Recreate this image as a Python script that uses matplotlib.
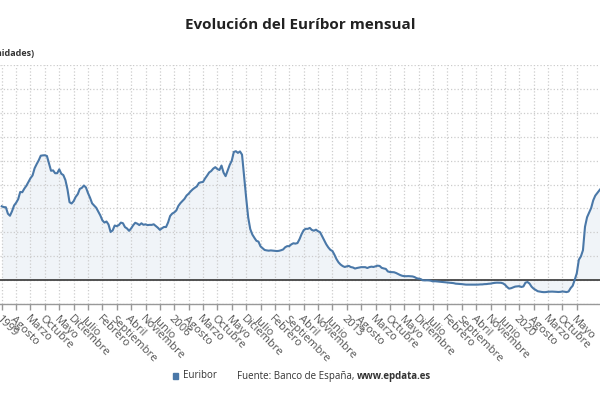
import numpy as np
import matplotlib
matplotlib.use('Agg')
import matplotlib.pyplot as plt
from matplotlib.patches import Rectangle

plt.rcParams['font.family'] = ['Open Sans', 'DejaVu Sans']

# Euribor mensual (%), enero 1999 - mayo 2023
euribor = [
    # 1999
    3.087, 3.055, 3.047, 2.778, 2.693, 2.881, 3.121, 3.235, 3.386, 3.688, 3.677, 3.828,
    # 2000
    3.949, 4.111, 4.265, 4.379, 4.679, 4.853, 5.011, 5.205, 5.218, 5.224, 5.193, 4.881,
    # 2001
    4.574, 4.591, 4.471, 4.472, 4.635, 4.450, 4.393, 4.184, 3.799, 3.260, 3.204, 3.303,
    # 2002
    3.481, 3.594, 3.816, 3.859, 3.958, 3.875, 3.641, 3.445, 3.211, 3.119, 3.027, 2.870,
    # 2003
    2.706, 2.502, 2.407, 2.452, 2.325, 2.014, 2.078, 2.283, 2.256, 2.301, 2.405, 2.381,
    # 2004
    2.218, 2.160, 2.061, 2.162, 2.296, 2.399, 2.360, 2.302, 2.377, 2.315, 2.333, 2.301,
    # 2005
    2.312, 2.310, 2.335, 2.265, 2.193, 2.103, 2.168, 2.223, 2.220, 2.414, 2.684, 2.783,
    # 2006
    2.833, 2.914, 3.105, 3.221, 3.308, 3.401, 3.539, 3.615, 3.715, 3.799, 3.864, 3.921,
    # 2007
    4.064, 4.094, 4.106, 4.253, 4.373, 4.505, 4.564, 4.666, 4.725, 4.647, 4.607, 4.793,
    # 2008
    4.498, 4.349, 4.590, 4.820, 4.994, 5.361, 5.393, 5.323, 5.384, 5.248, 4.350, 3.452,
    # 2009
    2.622, 2.135, 1.909, 1.771, 1.644, 1.610, 1.412, 1.334, 1.261, 1.243, 1.231, 1.242,
    # 2010
    1.232, 1.225, 1.215, 1.225, 1.249, 1.281, 1.373, 1.421, 1.420, 1.495, 1.541, 1.526,
    # 2011
    1.550, 1.714, 1.924, 2.086, 2.147, 2.144, 2.183, 2.097, 2.067, 2.110, 2.044, 2.004,
    # 2012
    1.837, 1.678, 1.499, 1.368, 1.266, 1.219, 1.061, 0.877, 0.740, 0.650, 0.588, 0.549,
    # 2013
    0.575, 0.594, 0.545, 0.528, 0.484, 0.507, 0.525, 0.542, 0.543, 0.541, 0.506, 0.543,
    # 2014
    0.562, 0.549, 0.577, 0.604, 0.592, 0.513, 0.488, 0.469, 0.362, 0.338, 0.335, 0.329,
    # 2015
    0.298, 0.255, 0.212, 0.180, 0.165, 0.163, 0.167, 0.161, 0.154, 0.128, 0.079, 0.059,
    # 2016
    0.042, -0.008, -0.012, -0.010, -0.013, -0.028, -0.056, -0.048, -0.057, -0.069, -0.074, -0.080,
    # 2017
    -0.095, -0.106, -0.110, -0.119, -0.127, -0.149, -0.154, -0.156, -0.168, -0.180, -0.189, -0.190,
    # 2018
    -0.189, -0.191, -0.191, -0.190, -0.188, -0.181, -0.180, -0.169, -0.166, -0.154, -0.147, -0.129,
    # 2019
    -0.116, -0.108, -0.109, -0.112, -0.134, -0.190, -0.283, -0.356, -0.339, -0.304, -0.272, -0.261,
    # 2020
    -0.253, -0.288, -0.266, -0.108, -0.081, -0.147, -0.279, -0.359, -0.415, -0.466, -0.481, -0.497,
    # 2021
    -0.505, -0.501, -0.487, -0.484, -0.481, -0.484, -0.491, -0.498, -0.492, -0.477, -0.487, -0.502,
    # 2022
    -0.477, -0.335, -0.237, 0.013, 0.287, 0.852, 0.992, 1.249, 2.233, 2.629, 2.828, 3.018,
    # 2023
    3.337, 3.534, 3.647, 3.757, 3.862,
]
start_year = 1999
meses = ['Enero', 'Febrero', 'Marzo', 'Abril', 'Mayo', 'Junio', 'Julio',
         'Agosto', 'Septiembre', 'Octubre', 'Noviembre', 'Diciembre']

x = np.arange(len(euribor))
y = np.array(euribor)

# una etiqueta cada 7 meses (la ultima visible es mayo 2022)
tick_pos = x[:281:7]
tick_lab = []
for i in tick_pos:
    yr, m = divmod(i, 12)
    tick_lab.append(str(start_year + yr) if m == 0 else meses[m])

line_color = '#4a78a8'

fig = plt.figure(figsize=(6, 4), dpi=100)
ax = fig.add_axes([0, 0.24, 1, 0.5975])

ax.fill_between(x, y, 0, color=line_color, alpha=0.08, linewidth=0)
ax.plot(x, y, color=line_color, linewidth=1.5, zorder=3)
ax.axhline(0, color='#444444', linewidth=1.3, zorder=2)

ax.set_xlim(-0.85, 291.3)
ax.set_ylim(-1, 9)
ax.set_yticks(np.arange(-1, 10, 1))
ax.set_yticklabels([])
ax.tick_params(axis='y', length=0)

ax.set_xticks(tick_pos)
ax.set_xticklabels(tick_lab, rotation=-45, ha='left', va='top',
                   rotation_mode='anchor', fontsize=8, color='#555555')
ax.tick_params(axis='x', length=4, width=1, color='#999999', pad=3)

ax.grid(True, linestyle=':', color='#cccccc', linewidth=0.9)
for s in ['top', 'left', 'right']:
    ax.spines[s].set_visible(False)
ax.spines['bottom'].set_color('#999999')
ax.spines['bottom'].set_linewidth(1)

fig.text(0.5, 1 - 25 / 400, 'Evolución del Euríbor mensual', ha='center',
         va='center', fontsize=11, fontweight='bold', color='#222222')
fig.text(35 / 600, 1 - 53 / 400, '(unidades)', ha='right', va='center',
         fontsize=6.5, fontweight='bold', color='#333333')

# leyenda y fuente
fig.patches.append(Rectangle((172.5 / 600, 1 - 379 / 400), 5 / 600, 6.5 / 400,
                             transform=fig.transFigure, color=line_color))
fig.text(183 / 600, 1 - 376 / 400, 'Euribor', ha='left', va='center',
         fontsize=7, color='#333333')
t1 = fig.text(237 / 600, 1 - 376 / 400, 'Fuente: Banco de España, ', ha='left',
              va='center', fontsize=7, color='#333333')
fig.canvas.draw()
bb = t1.get_window_extent()
fig.text(bb.x1 / 600, 1 - 376 / 400, 'www.epdata.es', ha='left',
         va='center', fontsize=7, fontweight='bold', color='#333333')

fig.savefig('out.png', dpi=100)
